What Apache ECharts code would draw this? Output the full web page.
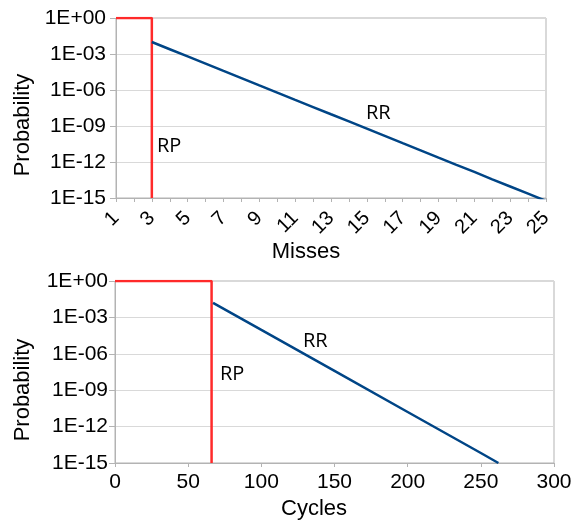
<!DOCTYPE html>
<html>
<head>
<meta charset="utf-8">
<script src="https://cdn.jsdelivr.net/npm/echarts@6/dist/echarts.min.js"></script>
<style>html,body{margin:0;padding:0;background:#fff}#c{width:576px;height:520px}</style>
</head>
<body>
<div id="c"></div>
<script>
// ---- data ----
var missesRR = [3,4,5,6,7,8,9,10,11,12,13,14,15,16,17,18,19,20,21,22,23,24,25];
var probRRMisses = [1.0e-2,2.5e-3,6.3e-4,1.6e-4,3.9e-5,9.8e-6,2.4e-6,6.1e-7,1.5e-7,3.8e-8,9.5e-9,2.4e-9,6.0e-10,1.5e-10,3.7e-11,9.3e-12,2.3e-12,5.8e-13,1.5e-13,3.6e-14,9.1e-15,2.3e-15,5.7e-16];
var missesRP = [1,3,3];
var probRPMisses = [1,1,1e-15];
var cyclesRR = [67,100,150,200,250,262];
var probRRCycles = [1.6e-2,9.3e-5,3.9e-8,1.6e-11,6.7e-15,1.0e-15];
var cyclesRP = [0,66,66];
var probRPCycles = [1,1,1e-15];
var missesTicks = [1,3,5,7,9,11,13,15,17,19,21,23,25];

function zip(a,b){return a.map(function(v,i){return [v,b[i]];});}
function fmtE(v){
  var e = Math.round(Math.log10(v));
  var s = e < 0 ? '-' : '+';
  var a = Math.abs(e);
  return '1E' + s + (a < 10 ? '0' + a : '' + a);
}
var FONT = 'Liberation Sans';
var GRAY = '#b3b3b3';
var GRID = '#d9d9d9';
var BLUE = '#004586';
var RED = '#ff2a2a';

function yAxisCfg(idx, margin){
  return {
    type:'log', gridIndex:idx, logBase:10, min:1e-15, max:1, interval:3,
    axisLine:{show:true, lineStyle:{color:GRAY}},
    axisTick:{show:true, length:6, lineStyle:{color:GRAY}},
    splitLine:{show:true, lineStyle:{color:GRID}},
    minorTick:{show:false},
    axisLabel:{formatter:fmtE, fontFamily:FONT, fontSize:21, color:'#000', margin:margin}
  };
}

var chart = echarts.init(document.getElementById('c'), null, {renderer:'canvas'});
var option = {
  animation:false,
  backgroundColor:'#fff',
  grid:[
    {left:116, top:18, width:430, height:180, show:true, borderColor:GRAY, borderWidth:1, containLabel:false},
    {left:115, top:281, width:439, height:182, show:true, borderColor:GRAY, borderWidth:1, containLabel:false}
  ],
  xAxis:[
    {
      type:'value', gridIndex:0, min:1, max:25, interval:1,
      axisLine:{show:true, lineStyle:{color:GRAY}},
      axisTick:{show:true, length:4, lineStyle:{color:GRAY}},
      splitLine:{show:false},
      axisLabel:{
        rotate:45, fontFamily:FONT, fontSize:20, color:'#000', margin:17,
        formatter:function(v){return missesTicks.indexOf(v) >= 0 ? String(v) : '';}
      }
    },
    {
      type:'value', gridIndex:1, min:0, max:300, interval:50,
      axisLine:{show:true, lineStyle:{color:GRAY}},
      axisTick:{show:true, length:4, lineStyle:{color:GRAY}},
      splitLine:{show:false},
      axisLabel:{fontFamily:FONT, fontSize:21, color:'#000', margin:9}
    }
  ],
  yAxis:[ yAxisCfg(0, 10), yAxisCfg(1, 7) ],
  series:[
    {type:'line', xAxisIndex:0, yAxisIndex:0, data:zip(missesRP, probRPMisses), showSymbol:false, symbol:'none', lineStyle:{color:RED, width:2.5}},
    {type:'line', xAxisIndex:0, yAxisIndex:0, data:zip(missesRR, probRRMisses), showSymbol:false, symbol:'none', lineStyle:{color:BLUE, width:2.5}, clip:true},
    {type:'line', xAxisIndex:1, yAxisIndex:1, data:zip(cyclesRP, probRPCycles), showSymbol:false, symbol:'none', lineStyle:{color:RED, width:2.5}},
    {type:'line', xAxisIndex:1, yAxisIndex:1, data:zip(cyclesRR, probRRCycles), showSymbol:false, symbol:'none', lineStyle:{color:BLUE, width:2.5}, clip:true}
  ],
  graphic:[
    {type:'text', x:23, y:125, rotation:Math.PI/2, style:{text:'Probability', font:'22px "Liberation Sans"', fill:'#000', align:'center', verticalAlign:'middle'}},
    {type:'text', x:23, y:390, rotation:Math.PI/2, style:{text:'Probability', font:'22px "Liberation Sans"', fill:'#000', align:'center', verticalAlign:'middle'}},
    {type:'text', x:306, y:241, style:{text:'Misses', font:'22px "Liberation Sans"', fill:'#000', align:'center', verticalAlign:'top'}},
    {type:'text', x:314, y:498, style:{text:'Cycles', font:'22px "Liberation Sans"', fill:'#000', align:'center', verticalAlign:'top'}},
    {type:'text', x:157, y:136, style:{text:'RP', font:'20px "Open Sans"', fill:'#000', align:'left', verticalAlign:'top'}},
    {type:'text', x:366, y:103, style:{text:'RR', font:'20px "Open Sans"', fill:'#000', align:'left', verticalAlign:'top'}},
    {type:'text', x:220, y:364, style:{text:'RP', font:'20px "Open Sans"', fill:'#000', align:'left', verticalAlign:'top'}},
    {type:'text', x:303, y:331, style:{text:'RR', font:'20px "Open Sans"', fill:'#000', align:'left', verticalAlign:'top'}}
  ]
};
chart.setOption(option);
</script>
</body>
</html>
